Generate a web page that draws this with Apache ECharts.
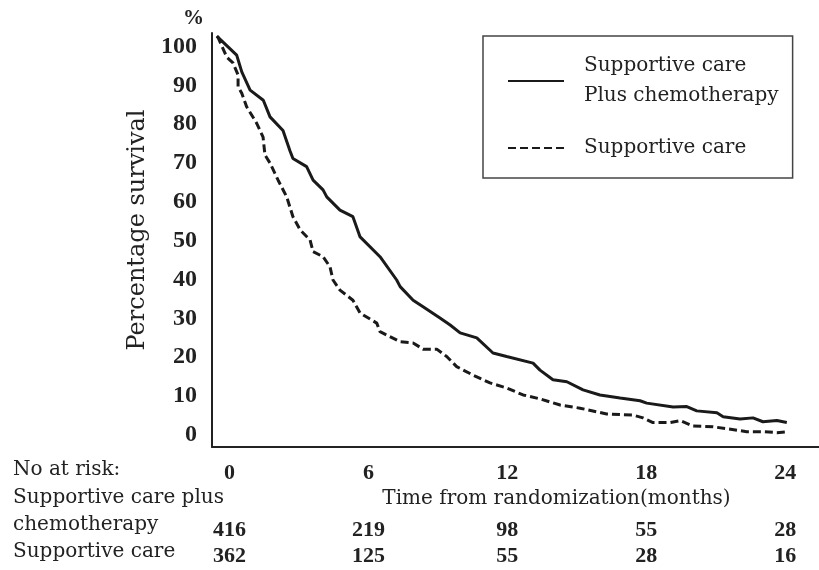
<!DOCTYPE html>
<html>
<head>
<meta charset="utf-8">
<script src="https://cdn.jsdelivr.net/npm/echarts@6/dist/echarts.min.js"></script>
<style>
  html, body { margin: 0; padding: 0; background: #fff; }
  #main { width: 819px; height: 570px; }
</style>
</head>
<body>
<div id="main"></div>
<script>
var myChart = echarts.init(document.getElementById("main"));

// survival curves (months, %)
var chemoTime = [-0.55, 0.31, 0.53, 0.89, 1.46, 1.75, 2.31, 2.61, 2.74, 3.33, 3.61, 4.04, 4.2, 4.77, 5.33, 5.64, 6.5, 7.22, 7.37, 7.93, 8.36, 9.09, 9.53, 9.96, 10.68, 11.38, 11.97, 13.11, 13.41, 13.97, 14.57, 15.27, 16.0, 16.87, 17.73, 18.02, 19.16, 19.75, 20.18, 21.05, 21.32, 22.05, 22.61, 23.04, 23.64, 24.07];
var chemoSurv = [102.7, 97.8, 93.5, 88.8, 86.2, 81.9, 78.4, 73.2, 71.2, 69.1, 65.6, 63.1, 61.3, 57.9, 56.2, 51.0, 45.9, 39.9, 38.2, 34.7, 33.0, 30.1, 28.3, 26.3, 25.0, 21.1, 20.2, 18.5, 16.7, 14.2, 13.7, 11.6, 10.3, 9.5, 8.8, 8.2, 7.2, 7.3, 6.2, 5.7, 4.7, 4.1, 4.4, 3.4, 3.7, 3.2];
var careTime = [-0.52, -0.12, 0.15, 0.37, 0.37, 0.53, 0.74, 1.17, 1.45, 1.53, 1.75, 2.1, 2.47, 2.74, 3.05, 3.48, 3.61, 4.04, 4.34, 4.47, 4.77, 5.33, 5.64, 6.36, 6.5, 7.37, 7.93, 8.36, 8.95, 9.38, 9.81, 10.52, 11.25, 11.97, 12.68, 13.41, 14.28, 15.14, 16.29, 17.43, 17.86, 18.29, 19.03, 19.46, 20.02, 20.89, 22.05, 22.34, 23.05, 23.64, 24.13];
var careSurv = [102.7, 97.3, 95.8, 92.7, 89.7, 88.0, 84.5, 80.3, 76.7, 72.1, 70.0, 65.6, 61.3, 56.2, 52.8, 50.2, 47.2, 45.9, 43.3, 39.9, 37.3, 34.7, 31.4, 28.8, 26.6, 24.0, 23.7, 22.1, 22.1, 20.2, 17.6, 15.4, 13.4, 12.1, 10.3, 9.3, 7.7, 6.9, 5.4, 5.1, 4.4, 3.2, 3.2, 3.7, 2.3, 2.1, 1.1, 0.85, 0.85, 0.6, 0.8];

var seriesNames = ["Supportive care\nPlus chemotherapy", "Supportive care"];
var yTicks = [0, 10, 20, 30, 40, 50, 60, 70, 80, 90, 100];
var xTicks = [0, 6, 12, 18, 24];
var chemoAtRisk = [416, 219, 98, 55, 28];
var careAtRisk = [362, 125, 55, 28, 16];
var rowLabels = ["No at risk:", "Supportive care plus", "chemotherapy", "Supportive care"];

function pairs(xs, ys) {
    return xs.map(function (x, i) {
        return [x, ys[i]];
    });
}

var serif = "DejaVu Serif";
var boldNum = {
    fontFamily: "Liberation Serif",
    fontWeight: "bold",
    fontSize: 22,
    color: "#222",
};

// x 轴 + 两行 "No at risk" 数字
function riskAxis(offset, counts) {
    return {
        type: "value",
        gridIndex: 0,
        position: "bottom",
        offset: offset,
        min: -0.756,
        max: 25.46,
        axisLine: { show: false, onZero: false },
        axisTick: { show: false },
        splitLine: { show: false },
        axisLabel: Object.assign({}, boldNum, {
            margin: 15,
            customValues: xTicks,
            formatter: function (v) {
                var i = xTicks.indexOf(v);
                return i < 0 ? "" : String(counts[i]);
            },
        }),
    };
}

var rowY = [470, 498, 525, 552];

var option = {
    animation: false,
    backgroundColor: "#fff",
    grid: {
        left: 212,
        right: 0,
        top: 33,
        bottom: 123,
    },
    legend: {
        orient: "vertical",
        left: 483,
        top: 36,
        selectedMode: false,
        itemWidth: 56,
        itemHeight: 14,
        itemGap: 22,
        padding: [15, 14, 15, 24],
        borderColor: "#444",
        borderWidth: 1.5,
        data: seriesNames,
        itemStyle: { color: "rgba(0,0,0,0)", borderWidth: 0 },
        textStyle: {
            fontFamily: serif,
            fontSize: 20,
            lineHeight: 30,
            color: "#222",
            padding: [0, 0, 0, 15],
        },
    },
    xAxis: [
        {
            type: "value",
            min: -0.756,
            max: 25.46,
            name: "Time from randomization(months)",
            nameLocation: "middle",
            nameGap: 39,
            nameTextStyle: {
                fontFamily: serif,
                fontSize: 20,
                color: "#222",
                padding: [0, 0, 0, 82],
            },
            axisLine: { onZero: false, lineStyle: { color: "#222", width: 2 } },
            axisTick: { show: false },
            splitLine: { show: false },
            axisLabel: Object.assign({}, boldNum, {
                margin: 15,
                customValues: xTicks,
            }),
        },
        riskAxis(57.5, chemoAtRisk),
        riskAxis(83, careAtRisk),
    ],
    yAxis: {
        type: "value",
        min: -3.1,
        max: 103.5,
        name: "Percentage survival",
        nameLocation: "middle",
        nameGap: 60,
        nameTextStyle: {
            fontFamily: serif,
            fontSize: 24,
            color: "#222",
            padding: [0, 0, 0, 20],
        },
        axisLine: { show: true, onZero: false, lineStyle: { color: "#222", width: 2 } },
        axisTick: { show: false },
        splitLine: { show: false },
        axisLabel: {
            fontFamily: "Liberation Serif",
            fontWeight: "bold",
            fontSize: 24,
            color: "#222",
            margin: 15,
            customValues: yTicks,
        },
    },
    graphic: [
        {
            type: "text",
            left: 183,
            top: 8,
            style: {
                text: "%",
                font: "bold 21px 'Liberation Serif'",
                fill: "#222",
            },
        },
    ].concat(
        rowLabels.map(function (t, i) {
            return {
                type: "text",
                x: 13,
                y: rowY[i],
                style: {
                    text: t,
                    font: "20px '" + serif + "'",
                    fill: "#222",
                    verticalAlign: "middle",
                },
            };
        })
    ),
    series: [
        {
            name: seriesNames[0],
            type: "line",
            data: pairs(chemoTime, chemoSurv),
            showSymbol: false,
            symbol: "none",
            lineStyle: { color: "#1a1a1a", width: 3 },
            itemStyle: { color: "#1a1a1a" },
        },
        {
            name: seriesNames[1],
            type: "line",
            data: pairs(careTime, careSurv),
            showSymbol: false,
            symbol: "none",
            lineStyle: { color: "#1a1a1a", width: 3, type: [8, 4] },
            itemStyle: { color: "#1a1a1a" },
        },
    ],
};
myChart.setOption(option);
</script>
</body>
</html>
